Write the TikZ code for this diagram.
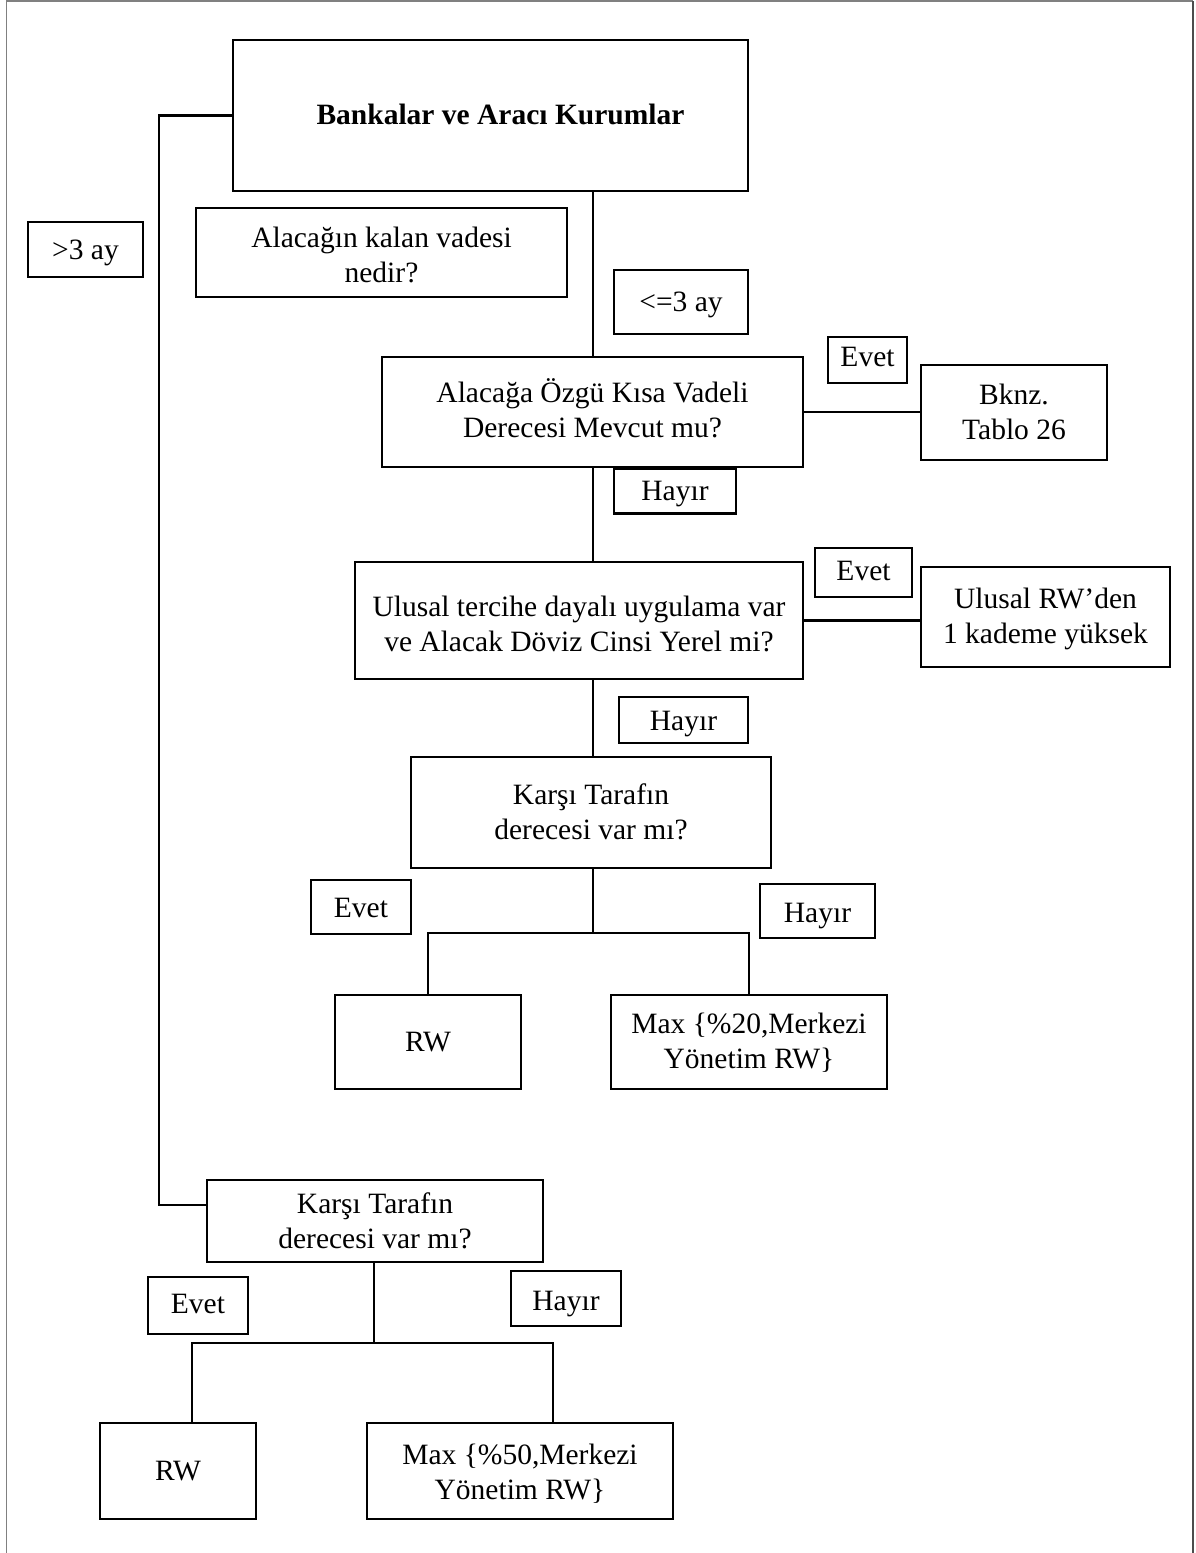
\documentclass[tikz,border=0pt]{standalone}
\usepackage{fontspec}
\setmainfont{Liberation Serif}
% centred block of lines, drawn a little lower than its nominal box
\newcommand\txt[2][3pt]{\raisebox{-#1}[\height][\depth]{\begin{tabular}{@{}c@{}}#2\end{tabular}}}
\begin{document}
\begin{tikzpicture}[x=1pt,y=-1pt,
  box/.style={draw, line width=2.6pt, rectangle, inner sep=0pt,
    font=\fontsize{29.5}{35}\selectfont},
  link/.style={line width=2.6pt}]
\useasboundingbox (0,0) rectangle (1195,1553);
% page frame
\draw[black!50, line width=1.6pt] (6.5,1553) -- (6.5,1) -- (1193,1);
\draw[black!70, line width=2pt] (1193,1) -- (1193,1553);

% boxes
\node[box, minimum width=515, minimum height=151, font=\fontsize{29.5}{35}\selectfont\bfseries] (bank) at (490.5,115.5) {\hspace*{20pt}\txt[2pt]{Bankalar ve Aracı Kurumlar}};
\node[box, minimum width=115, minimum height=55] (gt3) at (85.5,249.5) {\txt{>3 ay}};
\node[box, minimum width=371, minimum height=89] (vade) at (381.5,252.5) {\txt[5pt]{Alacağın kalan vadesi\\nedir?}};
\node[box, minimum width=134, minimum height=64] (le3) at (681,302) {\txt[2pt]{<=3 ay}};
\node[box, minimum width=79, minimum height=46] (evetA) at (867.5,360) {\txt[-1pt]{Evet}};
\node[box, minimum width=421, minimum height=110] (q1) at (592.5,412) {\txt[1pt]{Alacağa Özgü Kısa Vadeli\\Derecesi Mevcut mu?}};
\node[box, minimum width=186, minimum height=95] (bknz) at (1014,412.5) {\txt[2pt]{Bknz.\\Tablo 26}};
\node[box, minimum width=122, minimum height=45] (hayirA) at (675,491) {\txt[2pt]{Hayır}};
\node[box, minimum width=448, minimum height=117] (q2) at (579,620.5) {\txt[6pt]{Ulusal tercihe dayalı uygulama var\\ve Alacak Döviz Cinsi Yerel mi?}};
\node[box, minimum width=97, minimum height=49] (evetB) at (863.5,572.5) {\txt[1pt]{Evet}};
\node[box, minimum width=249, minimum height=100] (ulusal) at (1045.5,617) {\txt[2pt]{Ulusal RW’den\\1 kademe yüksek}};
\node[box, minimum width=129, minimum height=46] (hayirB) at (683.5,720) {\txt{Hayır}};
\node[box, minimum width=360, minimum height=111] (k1) at (591,812.5) {\txt[2pt]{Karşı Tarafın\\derecesi var mı?}};
\node[box, minimum width=100, minimum height=54] (evetC) at (361,907) {\txt{Evet}};
\node[box, minimum width=115, minimum height=54] (hayirC) at (817.5,911) {\txt[4pt]{Hayır}};
\node[box, minimum width=186, minimum height=94] (rw1) at (428,1042) {\txt[2pt]{RW}};
\node[box, minimum width=276, minimum height=94] (max20) at (749,1042) {\txt[1.5pt]{Max \{\%20,Merkezi\\Yönetim RW\}}};
\node[box, minimum width=336, minimum height=82] (k2) at (375,1221) {\txt[2.5pt]{Karşı Tarafın\\derecesi var mı?}};
\node[box, minimum width=100, minimum height=57] (evetD) at (198,1305.5) {\txt[0.5pt]{Evet}};
\node[box, minimum width=110, minimum height=55] (hayirD) at (566,1298.5) {\txt[5pt]{Hayır}};
\node[box, minimum width=156, minimum height=96] (rw2) at (178,1471) {\txt[2pt]{RW}};
\node[box, minimum width=306, minimum height=96] (max50) at (520,1471) {\txt[4pt]{Max \{\%50,Merkezi\\Yönetim RW\}}};

% guide coordinates for the connector runs
\coordinate (spine) at (593,0);
\coordinate (lrail) at (159,1205);
\coordinate (fork1) at (593,933);
\coordinate (fork2) at (374,1343);
\coordinate (dropL) at (192,0);
\coordinate (dropR) at (553,0);

% long branch on the left (>3 ay)
\draw[link] (bank.west) -| (lrail) -- (lrail -| k2.west);
% main spine (<=3 ay)
\draw[link] (bank.south -| spine) -- (q1.north -| spine);
\draw[link] (q1.east) -- (q1.east -| bknz.west);
\draw[link] (q1.south -| spine) -- (q2.north -| spine);
\draw[link] (q2.east) -- (q2.east -| ulusal.west);
\draw[link] (q2.south -| spine) -- (k1.north -| spine);
\draw[link] (k1.south -| spine) -- (fork1);
\draw[link] (rw1.north) |- (fork1) -| (max20.north);
% lower fork
\draw[link] (k2.south -| fork2) -- (fork2);
\draw[link] (rw2.north -| dropL) |- (fork2) -| (max50.north -| dropR);
\end{tikzpicture}
\end{document}
